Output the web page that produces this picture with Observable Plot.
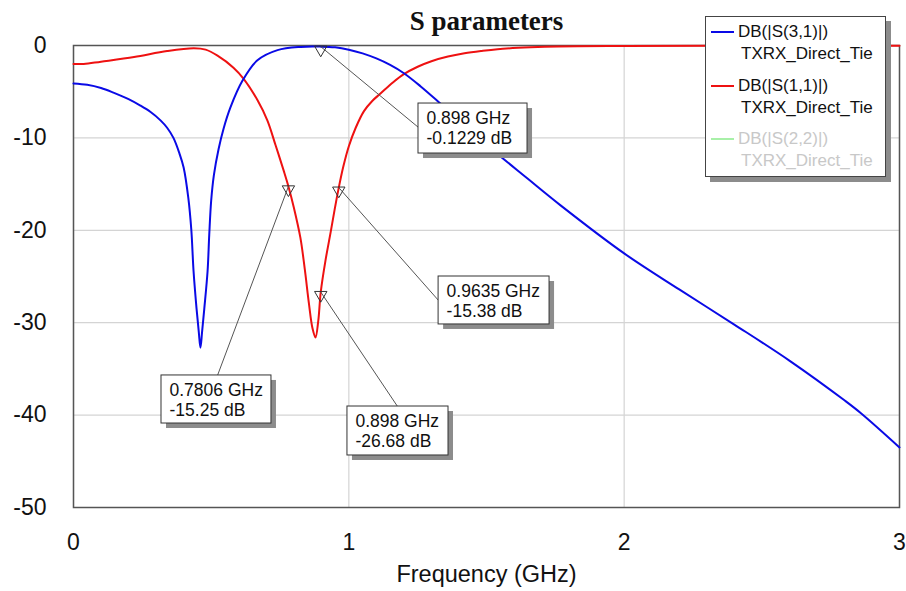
<!DOCTYPE html>
<html>
<head>
<meta charset="utf-8">
<script src="https://cdn.jsdelivr.net/npm/d3@7"></script>
<script src="https://cdn.jsdelivr.net/npm/@observablehq/plot@0.6"></script>
<style>
  body { margin: 0; background: white; }
  #wrap { position: relative; width: 906px; height: 591px; font-family: "Liberation Sans", Arial, sans-serif; }
  #legend { position: absolute; left: 705px; top: 16px; width: 179px; height: 159px; background: white;
            border: 1px solid #444; box-shadow: 5px 5px 0 #8c8c8c; }
  .lg-line { position: absolute; left: 5px; width: 23px; height: 2px; }
  .lg-text { position: absolute; left: 32px; font-size: 17px; line-height: 20px; white-space: nowrap; color: #111; }
</style>
</head>
<body>
<div id="wrap"></div>
<script>
// ---- data ----
const title = "S parameters";
const xLabel = "Frequency (GHz)";
const xTicks = [0, 1, 2, 3];
const yTicks = [0, -10, -20, -30, -40, -50];

// DB(|S(3,1)|) — frequency (GHz), dB
const s31Freq = [0, 0.05, 0.1, 0.145, 0.2, 0.243, 0.28, 0.316, 0.34, 0.363, 0.385, 0.4, 0.417, 0.428, 0.436, 0.447, 0.455, 0.461,
  0.467, 0.475, 0.487, 0.493, 0.5, 0.51, 0.527, 0.545, 0.57, 0.614, 0.668, 0.741, 0.825, 0.898, 0.95, 1.0, 1.05, 1.1, 1.15, 1.2,
  1.26, 1.322, 1.4, 1.478, 1.649, 1.769, 2.0, 2.2, 2.4, 2.6, 2.8, 2.86, 3.0];
const s31dB = [-4.1, -4.25, -4.6, -5.1, -5.8, -6.5, -7.2, -8.1, -8.9, -10.0, -11.7, -13.2, -16.5, -20.0, -24.4, -28.5, -31.0, -32.7,
  -31.0, -28.5, -24.4, -20.5, -16.8, -14.0, -11.2, -9.0, -6.7, -3.8, -1.6, -0.5, -0.15, -0.1229, -0.2, -0.45, -0.85, -1.4, -2.1, -3.0,
  -4.4, -6.0, -8.1, -10.2, -14.4, -17.3, -22.5, -26.4, -30.2, -34.1, -38.4, -39.8, -43.5];

// DB(|S(1,1)|)
const s11Freq = [0, 0.037, 0.1, 0.22, 0.34, 0.437, 0.48, 0.523, 0.581, 0.618, 0.668, 0.704, 0.734, 0.764, 0.7806, 0.8, 0.824, 0.84, 0.855,
  0.868, 0.879, 0.889, 0.898, 0.915, 0.934, 0.95, 0.9635, 0.98, 1.0, 1.025, 1.055, 1.085, 1.115, 1.16, 1.2, 1.25, 1.3, 1.36, 1.42,
  1.48, 1.54, 1.66, 1.76, 2.0, 2.5, 3.0];
const s11dB = [-2.0, -2.0, -1.75, -1.25, -0.6, -0.3, -0.45, -1.1, -2.4, -3.6, -5.9, -8.1, -10.8, -13.6, -15.25, -17.5, -20.8, -24.2, -27.9,
  -30.6, -31.6, -29.8, -26.68, -23.3, -20.2, -17.5, -15.38, -13.1, -10.9, -8.9, -7.1, -6.0, -5.2, -4.0, -3.1, -2.3, -1.7, -1.2, -0.85,
  -0.6, -0.4, -0.2, -0.1, -0.05, -0.03, -0.02];

const seriesNames = ["DB(|S(3,1)|)", "DB(|S(1,1)|)", "DB(|S(2,2)|)"];
const seriesSource = "TXRX_Direct_Tie";
const seriesColors = ["#0a0ae6", "#ee1111", "#a8f0a8"];
const seriesTextColors = ["#111", "#111", "#c8c8c8"];

// markers: frequency, dB value
const markerFreq = [0.898, 0.7806, 0.9635, 0.898];
const markerdB = [-0.1229, -15.25, -15.38, -26.68];
// callout boxes (data units): left, right, top, bottom, and leader end point
const calloutX1 = [1.253, 0.3196, 1.326, 0.995];
const calloutX2 = [1.649, 0.719, 1.729, 1.362];
const calloutY1 = [-6.28, -35.71, -25.0, -39.07];
const calloutY2 = [-11.69, -40.91, -30.19, -44.37];
const leaderX = [1.253, 0.523, 1.326, 1.177];
const leaderY = [-8.87, -35.71, -27.6, -39.07];

// ---- build ----
const s31 = s31Freq.map((f, i) => ({f, db: s31dB[i]}));
const s11 = s11Freq.map((f, i) => ({f, db: s11dB[i]}));
const callouts = markerFreq.map((f, i) => ({
  f, db: markerdB[i],
  x1: calloutX1[i], x2: calloutX2[i], y1: calloutY1[i], y2: calloutY2[i],
  lx: leaderX[i], ly: leaderY[i],
  label: `${f} GHz\n${markerdB[i]} dB`
}));

const chart = Plot.plot({
  width: 906, height: 591,
  marginLeft: 73, marginRight: 7, marginTop: 45, marginBottom: 84,
  style: {fontFamily: "'Liberation Sans', Arial, sans-serif", background: "white", color: "#111", overflow: "visible"},
  x: {domain: [0, 3]},
  y: {domain: [-50, 0]},
  marks: [
    Plot.gridX(xTicks, {stroke: "#d4d4d4", strokeOpacity: 1, strokeWidth: 1.2}),
    Plot.gridY(yTicks, {stroke: "#d4d4d4", strokeOpacity: 1, strokeWidth: 1.2}),
    Plot.axisX(xTicks, {tickSize: 0, tickPadding: 26, fontSize: 23, label: null, tickFormat: d => String(d)}),
    Plot.axisY(yTicks, {tickSize: 0, tickPadding: 27, fontSize: 23, label: null, tickFormat: d => String(d)}),
    Plot.frame({stroke: "#555", strokeWidth: 1.5}),
    Plot.line(s11, {x: "f", y: "db", stroke: seriesColors[1], strokeWidth: 2, curve: "catmull-rom"}),
    Plot.line(s31, {x: "f", y: "db", stroke: seriesColors[0], strokeWidth: 2, curve: "catmull-rom"}),
    Plot.link(callouts, {x1: "f", y1: "db", x2: "lx", y2: "ly", stroke: "#555", strokeWidth: 1}),
    Plot.dot(callouts, {x: "f", y: "db", symbol: "triangle", rotate: 180, r: 4.6, dy: 3, stroke: "#333", fill: "none", strokeWidth: 1}),
    Plot.rect(callouts, {x1: "x1", x2: "x2", y1: "y1", y2: "y2", fill: "#8c8c8c", dx: 5, dy: 5}),
    Plot.rect(callouts, {x1: "x1", x2: "x2", y1: "y1", y2: "y2", fill: "white", stroke: "#333", strokeWidth: 1}),
    Plot.text(callouts, {x: "x1", y: "y1", text: "label", textAnchor: "start", lineAnchor: "top", dx: 8, dy: 6,
      fontSize: 17.5, lineHeight: 1.15, fill: "#111"}),
    Plot.text([title], {frameAnchor: "top", lineAnchor: "middle", dy: -24, fontSize: 27, fontWeight: "bold",
      fontFamily: "'Liberation Serif', 'Times New Roman', serif", fill: "#111"}),
    Plot.text([xLabel], {frameAnchor: "bottom", lineAnchor: "middle", dy: 67, fontSize: 23.5, fill: "#111"})
  ]
});

const wrap = document.getElementById("wrap");
wrap.appendChild(chart);

// legend
const legend = document.createElement("div");
legend.id = "legend";
seriesNames.forEach((name, i) => {
  const c = 15 + i * 53.5;
  const ln = document.createElement("div");
  ln.className = "lg-line";
  ln.style.top = (c - 1) + "px";
  ln.style.background = seriesColors[i];
  legend.appendChild(ln);
  const t1 = document.createElement("div");
  t1.className = "lg-text";
  t1.style.top = (c - 10) + "px";
  t1.style.color = seriesTextColors[i];
  t1.textContent = name;
  legend.appendChild(t1);
  const t2 = document.createElement("div");
  t2.className = "lg-text";
  t2.style.left = "35px";
  t2.style.top = (c + 12) + "px";
  t2.style.color = seriesTextColors[i];
  t2.textContent = seriesSource;
  legend.appendChild(t2);
});
wrap.appendChild(legend);
</script>
</body>
</html>
